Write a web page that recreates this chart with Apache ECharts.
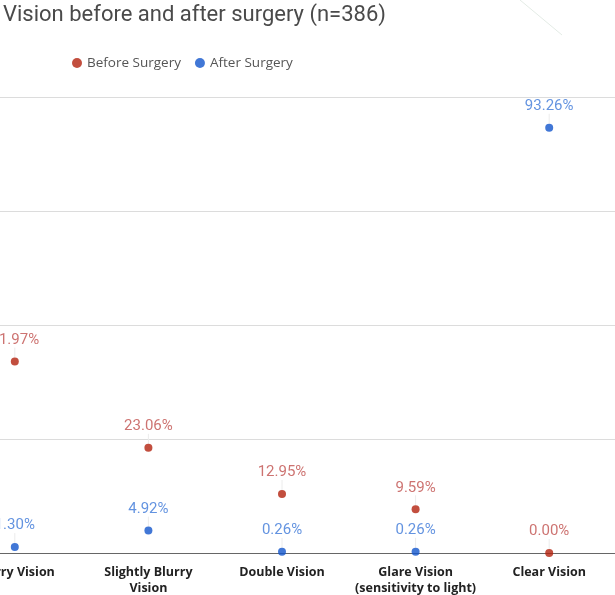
<!DOCTYPE html>
<html>
<head>
<meta charset="utf-8">
<script src="https://cdn.jsdelivr.net/npm/echarts@6/dist/echarts.min.js"></script>
<style>
html, body { margin: 0; padding: 0; background: #fff; overflow: hidden; }
/* the reference is cropped on the left, so the chart is wider than the window and shifted */
#chart { width: 668px; height: 595px; margin-left: -52px; }
</style>
</head>
<body>
<div id="chart"></div>
<script>
// categories (first one is cut off at the left edge)
const categories = ['Blurry Vision', 'Slightly Blurry\nVision', 'Double Vision', 'Glare Vision\n(sensitivity to light)', 'Clear Vision'];
const beforeSurgery = [41.97, 23.06, 12.95, 9.59, 0.00];
const afterSurgery = [1.30, 4.92, 0.26, 0.26, 93.26];
const yTicks = [0, 25, 50, 75, 100];

const shift = 52;

function dotSeries(name, data, dotColor, textColor) {
    return {
        name: name,
        type: 'scatter',
        data: data,
        symbol: 'circle',
        symbolSize: 8,
        itemStyle: { color: dotColor },
        label: {
            show: true,
            position: 'top',
            distance: 4,
            formatter: (p) => p.value.toFixed(2) + '%',
            color: textColor,
            fontFamily: 'Roboto',
            fontSize: 15
        },
        labelLayout: { dy: -6, hideOverlap: false },
        labelLine: {
            show: true,
            lineStyle: { color: '#ececec', width: 1 }
        },
        z: 3
    };
}

let myChart = echarts.init(document.getElementById('chart'));
let option = {
    animation: false,
    title: {
        text: 'Vision before and after surgery (n=386)',
        left: shift - 2,
        top: -1,
        textStyle: {
            fontFamily: 'Roboto',
            fontWeight: 'normal',
            fontSize: 22,
            color: '#4a4a4a'
        }
    },
    legend: {
        left: shift + 67,
        top: 51,
        icon: 'circle',
        itemWidth: 10,
        itemHeight: 10,
        itemGap: 14,
        textStyle: { fontFamily: 'Open Sans', fontSize: 13.5, color: '#555' },
        data: ['Before Surgery', 'After Surgery']
    },
    grid: { left: 0, right: 0, top: 97, bottom: 42, outerBoundsMode: 'none' },
    xAxis: {
        type: 'category',
        data: categories,
        axisTick: { show: false },
        axisLine: { lineStyle: { color: '#666', width: 1 } },
        axisLabel: {
            interval: 0,
            margin: 11,
            fontFamily: 'Open Sans',
            fontWeight: 'bold',
            fontSize: 12.5,
            lineHeight: 16,
            color: '#222'
        }
    },
    yAxis: {
        type: 'value',
        min: yTicks[0],
        max: yTicks[yTicks.length - 1],
        interval: 25,
        axisLabel: { show: false },
        axisLine: { show: false },
        axisTick: { show: false },
        splitLine: { lineStyle: { color: '#dcdcdc' } }
    },
    series: [
        dotSeries('Before Surgery', beforeSurgery, '#b3220e', '#c0504d'),
        dotSeries('After Surgery', afterSurgery, '#1155cc', '#3c78d8')
    ],
    graphic: [{
        type: 'line',
        shape: { x1: shift + 520, y1: 0, x2: shift + 562, y2: 35 },
        style: { stroke: '#e3ebe5', lineWidth: 1 },
        silent: true
    }]
};
myChart.setOption(option);
</script>
</body>
</html>
